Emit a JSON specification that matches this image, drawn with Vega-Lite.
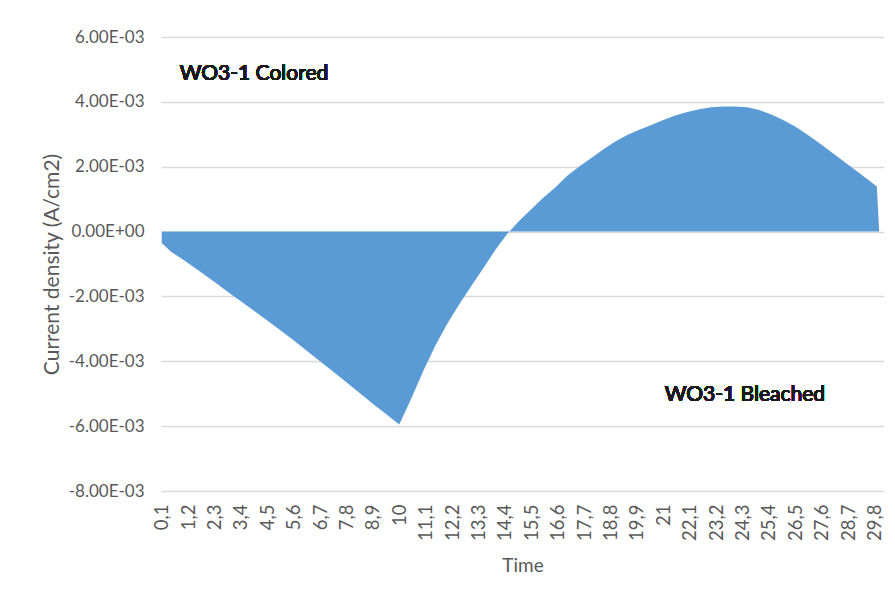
{
  "$schema": "https://vega.github.io/schema/vega-lite/v6.json",
  "width": 723,
  "height": 454,
  "autosize": {"type": "none"},
  "padding": {"left": 161, "top": 37, "right": 11, "bottom": 110},
  "background": "white",
  "config": {
    "view": {"stroke": null},
    "font": "Lato",
    "axis": {"labelOverlap": false, "labelFlush": false}
  },
  "data": {
    "values": [
      {"t": 0.1, "j": -0.00035},
      {"t": 0.5, "j": -0.00063},
      {"t": 1.0, "j": -0.00087},
      {"t": 1.5, "j": -0.00113},
      {"t": 2.0, "j": -0.00139},
      {"t": 2.5, "j": -0.00166},
      {"t": 3.0, "j": -0.00194},
      {"t": 3.5, "j": -0.0022},
      {"t": 4.0, "j": -0.00247},
      {"t": 4.5, "j": -0.00274},
      {"t": 5.0, "j": -0.00302},
      {"t": 5.5, "j": -0.0033},
      {"t": 6.0, "j": -0.00359},
      {"t": 6.5, "j": -0.00388},
      {"t": 7.0, "j": -0.00418},
      {"t": 7.5, "j": -0.00447},
      {"t": 8.0, "j": -0.00477},
      {"t": 8.5, "j": -0.00507},
      {"t": 9.0, "j": -0.00537},
      {"t": 9.5, "j": -0.00566},
      {"t": 10.0, "j": -0.00595},
      {"t": 10.5, "j": -0.00515},
      {"t": 11.0, "j": -0.0043},
      {"t": 11.5, "j": -0.00352},
      {"t": 12.0, "j": -0.00284},
      {"t": 12.5, "j": -0.00224},
      {"t": 13.0, "j": -0.00168},
      {"t": 13.5, "j": -0.00113},
      {"t": 14.0, "j": -0.00057},
      {"t": 14.5, "j": -0.00007},
      {"t": 15.0, "j": 0.00033},
      {"t": 15.5, "j": 0.00069},
      {"t": 16.0, "j": 0.00104},
      {"t": 16.5, "j": 0.00136},
      {"t": 17.0, "j": 0.00172},
      {"t": 17.5, "j": 0.00201},
      {"t": 18.0, "j": 0.00227},
      {"t": 18.5, "j": 0.00253},
      {"t": 19.0, "j": 0.00278},
      {"t": 19.5, "j": 0.00298},
      {"t": 20.0, "j": 0.00314},
      {"t": 20.5, "j": 0.00329},
      {"t": 21.0, "j": 0.00344},
      {"t": 21.5, "j": 0.00358},
      {"t": 22.0, "j": 0.00369},
      {"t": 22.5, "j": 0.00377},
      {"t": 23.0, "j": 0.00383},
      {"t": 23.5, "j": 0.00386},
      {"t": 24.0, "j": 0.00386},
      {"t": 24.5, "j": 0.00383},
      {"t": 25.0, "j": 0.00375},
      {"t": 25.5, "j": 0.00361},
      {"t": 26.0, "j": 0.00344},
      {"t": 26.5, "j": 0.00324},
      {"t": 27.0, "j": 0.00299},
      {"t": 27.5, "j": 0.00273},
      {"t": 28.0, "j": 0.00245},
      {"t": 28.5, "j": 0.00218},
      {"t": 29.0, "j": 0.0019},
      {"t": 29.5, "j": 0.00162},
      {"t": 29.9, "j": 0.00139},
      {"t": 30.0, "j": 0.0}
    ]
  },
  "layer": [
    {
      "mark": {"type": "area", "color": "#5b9bd5", "interpolate": "linear", "opacity": 1},
      "encoding": {
        "x": {
          "field": "t",
          "type": "quantitative",
          "scale": {"domain": [0.07, 30.2], "nice": false, "zero": false},
          "axis": {
            "title": "Time",
            "values": [0.1, 1.2, 2.3, 3.4, 4.5, 5.6, 6.7, 7.8, 8.9, 10, 11.1, 12.2, 13.3, 14.4, 15.5, 16.6, 17.7, 18.8, 19.9, 21, 22.1, 23.2, 24.3, 25.4, 26.5, 27.6, 28.7, 29.8],
            "tickCount": 40,
            "labelExpr": "replace(toString(datum.value), '.', ',')",
            "labelAngle": -90,
            "labelAlign": "right",
            "labelBaseline": "middle",
            "labelOverlap": false,
            "labelFlush": false,
            "ticks": false,
            "domain": false,
            "grid": false,
            "labelPadding": 13,
            "labelFontSize": 18.5,
            "labelColor": "#595959",
            "titleFontSize": 19,
            "titleColor": "#595959",
            "titleFontWeight": "normal",
            "titlePadding": 16
          }
        },
        "y": {
          "field": "j",
          "type": "quantitative",
          "scale": {"domain": [-0.008, 0.006], "nice": false},
          "axis": {
            "title": "Current density (A/cm2)",
            "values": [-0.008, -0.006, -0.004, -0.002, 0, 0.002, 0.004, 0.006],
            "tickCount": 10,
            "labelExpr": "datum.value == 0 ? '0.00E+00' : (datum.value < 0 ? '-' : '') + format(abs(datum.value) * 1000, '.2f') + 'E-03'",
            "ticks": false,
            "domain": false,
            "grid": true,
            "gridColor": "#d9d9d9",
            "gridWidth": 1.3,
            "labelPadding": 17,
            "labelFontSize": 17,
            "labelColor": "#595959",
            "labelFlush": false,
            "titleFontSize": 21,
            "titleColor": "#595959",
            "titleFontWeight": "normal",
            "titlePadding": 6
          }
        }
      }
    },
    {
      "mark": {"type": "text", "align": "left", "baseline": "middle", "fontSize": 21, "fontWeight": "normal", "color": "#1a1a1a"},
      "encoding": {
        "x": {"datum": 0.85},
        "y": {"datum": 0.00487},
        "text": {"value": "WO3-1 Colored"}
      }
    },
    {
      "mark": {"type": "text", "align": "left", "baseline": "middle", "fontSize": 21, "fontWeight": "normal", "color": "#1a1a1a"},
      "encoding": {
        "x": {"datum": 21.06},
        "y": {"datum": -0.00504},
        "text": {"value": "WO3-1 Bleached"}
      }
    }
  ]
}
